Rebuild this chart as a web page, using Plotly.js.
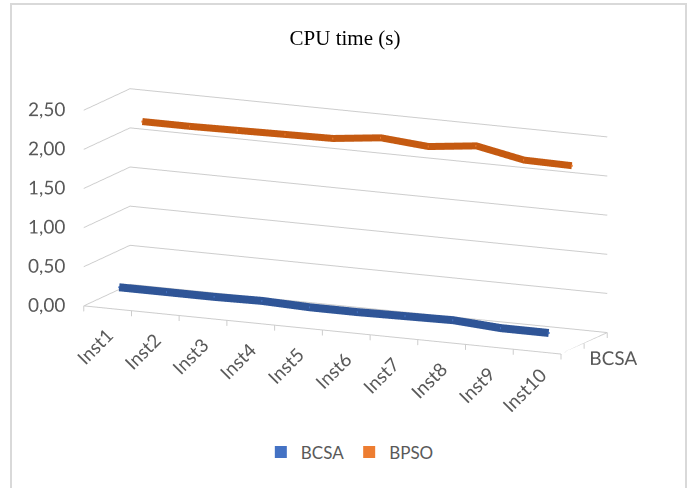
<!DOCTYPE html>
<html>
<head>
<meta charset="utf-8">
<script src="https://cdn.plot.ly/plotly-3.0.1.min.js"></script>
<style>html,body{margin:0;padding:0;background:#fff;}#chart{width:690px;height:488px;}</style>
</head>
<body>
<div id="chart"></div>
<script>
const categories = ['Inst1','Inst2','Inst3','Inst4','Inst5','Inst6','Inst7','Inst8','Inst9','Inst10'];
const seriesNames = ['BCSA','BPSO'];
const bcsa = [0.20, 0.20, 0.20, 0.21, 0.19, 0.19, 0.20, 0.21, 0.17, 0.17];
const bpso = [2.18, 2.18, 2.19, 2.20, 2.21, 2.28, 2.23, 2.30, 2.18, 2.17];
const zTicks = [0, 0.5, 1, 1.5, 2, 2.5];
const zTickLabels = zTicks.map(v => v.toFixed(2).replace('.', ','));

const idx = categories.map((c, i) => i);
const grid = '#cdcdcd';
const tickFont = {family: 'Lato, "Open Sans", sans-serif', size: 15, color: '#595959'};
const textFont = {family: 'Lato, "Open Sans", sans-serif', size: 19, color: '#595959'};
const legendFont = {family: 'Lato, "Open Sans", sans-serif', size: 17, color: '#595959'};
const nb = '\u00a0\u00a0';

// axis ranges (category slots, series slots, value range; the value range
// starts a little below zero only to leave room for the category labels)
const xr = [-0.5, categories.length - 0.5];
const yr = [-0.5, seriesNames.length - 0.5];
const zr = [-0.45, 2.5];

const layoutBase = {
  width: 690, height: 488,
  paper_bgcolor: '#ffffff', plot_bgcolor: '#ffffff',
  separators: ',.',
  title: {text: 'CPU time (s)', x: 0.5, xanchor: 'center', y: 0.922, yanchor: 'middle',
          font: {family: '"Liberation Serif", "Times New Roman", serif', size: 21, color: '#000000'}},
  showlegend: true,
  legend: {orientation: 'h', x: 0.507, xanchor: 'center', y: 0.073, yanchor: 'middle',
           font: legendFont, itemsizing: 'constant'},
  shapes: [{type: 'rect', xref: 'paper', yref: 'paper', x0: 11/690, x1: 686/690, y0: -0.05, y1: 1 - 4/488,
            line: {color: '#d9d9d9', width: 2}, fillcolor: 'rgba(0,0,0,0)', layer: 'below'}]
};

function ribbon(values, depth, color, name, w) {
  return {type: 'scatter3d', mode: 'lines', name: name, showlegend: false,
    x: idx, y: idx.map(() => depth), z: values, line: {color: color, width: w}, hoverinfo: 'skip'};
}
function legendItem(values, depth, color, name) {
  return {type: 'scatter3d', mode: 'markers', name: name, showlegend: true,
    x: idx, y: idx.map(() => depth), z: values, marker: {color: color, size: 1, symbol: 'square'}, hoverinfo: 'skip'};
}

// floor edges (front and right) at value 0, with tick marks between category / series slots
const fx = [], fy = [], fz = [];
fx.push(xr[0], xr[1], xr[1], null); fy.push(yr[0], yr[0], yr[1], null); fz.push(0, 0, 0, null);
for (let b = xr[0]; b <= xr[1] + 1e-9; b += 1) { fx.push(b, b, null); fy.push(yr[0], yr[0], null); fz.push(0, -0.07, null); }
for (let b = yr[0]; b <= yr[1] + 1e-9; b += 1) { fx.push(xr[1], xr[1], null); fy.push(b, b, null); fz.push(0, -0.07, null); }
const floorTrace = {type: 'scatter3d', mode: 'lines', showlegend: false, hoverinfo: 'skip',
  x: fx, y: fy, z: fz, line: {color: grid, width: 2}, connectgaps: false};

// value-axis labels, at the front-left edge of the walls
const valueLabels = {type: 'scatter3d', mode: 'text', showlegend: false, hoverinfo: 'skip',
  x: zTicks.map(() => xr[0] + 0.001), y: zTicks.map(() => yr[0] + 0.001), z: zTicks,
  text: zTickLabels.map(t => t + nb + nb), textposition: 'middle left', textfont: textFont};

// series-axis label
const seriesLabel = {type: 'scatter3d', mode: 'text', showlegend: false, hoverinfo: 'skip',
  x: [xr[1] - 0.01], y: [0], z: [-0.12], text: [nb + seriesNames[0]], textposition: 'middle right',
  textfont: textFont};

const data = [floorTrace,
              ribbon(bcsa, 0, '#2f5597', seriesNames[0], 16), ribbon(bpso, 1, '#c55a11', seriesNames[1], 14),
              legendItem(bcsa, 0, '#4472c4', seriesNames[0]), legendItem(bpso, 1, '#ed7d31', seriesNames[1]),
              valueLabels, seriesLabel];

const axisCommon = {showbackground: false, showspikes: false, zeroline: false, showline: false,
  linecolor: grid, linewidth: 2, gridcolor: grid, gridwidth: 2, tickfont: tickFont,
  title: {text: ''}, ticks: '', showgrid: false};

const th = 25 * Math.PI / 180, ph = 12.5 * Math.PI / 180, r = 2.6;
const layout = Object.assign({}, layoutBase, {
  margin: {l: 0, r: 0, t: 0, b: 0},
  scene: {
    domain: {x: [0.014, 0.986], y: [0.033, 0.988]},
    aspectmode: 'manual', aspectratio: {x: 2.26, y: 0.47, z: 1.015},
    camera: {eye: {x: r * Math.sin(th) * Math.cos(ph), y: -r * Math.cos(th) * Math.cos(ph), z: r * Math.sin(ph)},
             center: {x: 0, y: 0, z: 0}, up: {x: 0, y: 0, z: 1},
             projection: {type: 'orthographic'}},
    xaxis: Object.assign({}, axisCommon, {range: xr, tickvals: idx.map(i => i - 0.1), ticktext: categories, tickangle: -45}),
    yaxis: Object.assign({}, axisCommon, {range: yr, showticklabels: false}),
    zaxis: Object.assign({}, axisCommon, {range: zr, tickvals: zTicks, showticklabels: false, showgrid: true})
  }
});
Plotly.newPlot('chart', data, layout, {displayModeBar: false});
</script>
</body>
</html>
